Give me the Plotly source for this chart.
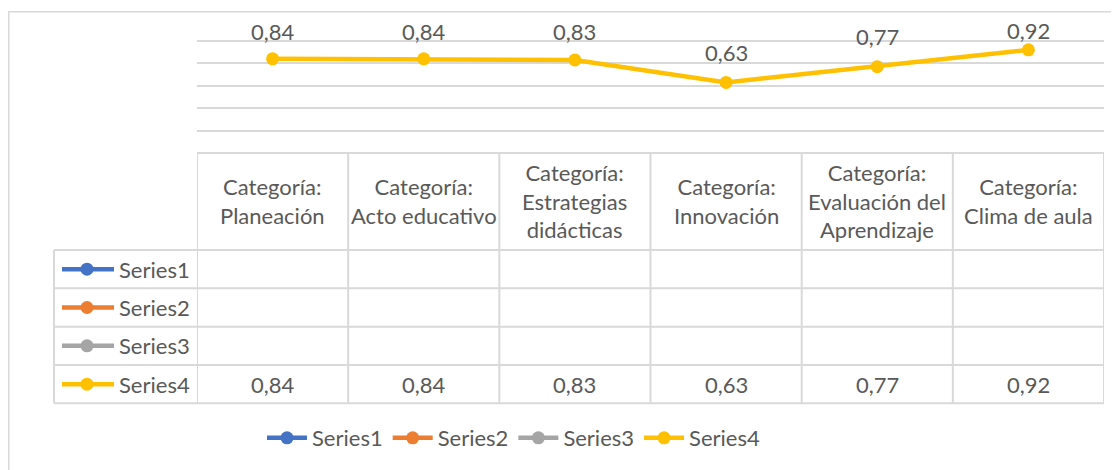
import plotly.graph_objects as go

categories = [
    "Categoría:<br>Planeación",
    "Categoría:<br>Acto educativo",
    "Categoría:<br>Estrategias<br>didácticas",
    "Categoría:<br>Innovación",
    "Categoría:<br>Evaluación del<br>Aprendizaje",
    "Categoría:<br>Clima de aula",
]
series_names = ["Series1", "Series2", "Series3", "Series4"]
series1 = [None] * 6
series2 = [None] * 6
series3 = [None] * 6
series4 = [0.84, 0.84, 0.83, 0.63, 0.77, 0.92]
series_values = [series1, series2, series3, series4]
colors = ["#4472C4", "#ED7D31", "#A5A5A5", "#FFC000"]

# page has an 8px body margin; the figure is sized to fit inside the window
OFF = 8
W, H = 1119 - OFF, 470 - OFF
FONT = "Lato"
TXT = "#595959"
GRID = "#D9D9D9"


def py(y):
    return 1 - (y - OFF) / H


def px(x):
    return (x - OFF) / W


xs = list(range(len(categories)))

# axis geometry (pixels)
axis_zero_px = 153
unit_px = 112.1          # pixels per 1.0 on the value axis
y_max = 1.03
label_top_px = 31        # data labels are kept below this line (inside chart)

fig = go.Figure()
for name, vals, col in zip(series_names, series_values, colors):
    fig.add_trace(go.Scatter(
        x=xs, y=vals, name=name, mode="lines+markers",
        line=dict(color=col, width=4.5),
        marker=dict(color=col, size=13),
        cliponaxis=False,
    ))

annotations = []
shapes = []

# data labels (above the point, kept inside the chart area)
for i, v in zip(xs, series4):
    point_px = axis_zero_px - v * unit_px
    shift = min(30, point_px - label_top_px)
    annotations.append(dict(
        x=i, y=v, xref="x", yref="y", text=f"{v:.2f}".replace(".", ","),
        showarrow=False, yshift=shift, yanchor="middle",
        font=dict(family=FONT, size=22, color=TXT)))

# table geometry (pixels)
table_top = 153
header_bottom = 250
row_bounds = [250, 288.3, 326.7, 365, 403.3]
row_left = 54
plot_left, plot_right = 197, 1104

# horizontal table lines
shapes.append(dict(type="line", xref="paper", yref="paper",
                   x0=px(plot_left), x1=px(plot_right), y0=py(table_top), y1=py(table_top),
                   line=dict(color=GRID, width=2)))
for yb in row_bounds:
    shapes.append(dict(type="line", xref="paper", yref="paper",
                       x0=px(row_left), x1=px(plot_right), y0=py(yb), y1=py(yb),
                       line=dict(color=GRID, width=2)))
# vertical table lines at category boundaries
for k in range(len(categories) + 1):
    shapes.append(dict(type="line", xref="x", yref="paper",
                       x0=k - 0.5, x1=k - 0.5, y0=py(table_top), y1=py(row_bounds[-1]),
                       line=dict(color=GRID, width=2)))
shapes.append(dict(type="line", xref="paper", yref="paper",
                   x0=px(row_left), x1=px(row_left), y0=py(row_bounds[0]), y1=py(row_bounds[-1]),
                   line=dict(color=GRID, width=2)))

# header text
for i, c in zip(xs, categories):
    annotations.append(dict(
        x=i, y=py((table_top + header_bottom) / 2), xref="x", yref="paper",
        text=c, showarrow=False, yanchor="middle", xanchor="center",
        font=dict(family=FONT, size=22, color=TXT)))

# row labels and values
for r, (name, vals, col) in enumerate(zip(series_names, series_values, colors)):
    yc = (row_bounds[r] + row_bounds[r + 1]) / 2
    shapes.append(dict(type="line", xref="paper", yref="paper",
                       x0=px(62), x1=px(114), y0=py(yc), y1=py(yc),
                       line=dict(color=col, width=4.5)))
    shapes.append(dict(type="circle", xref="paper", yref="paper",
                       x0=px(87 - 6.5), x1=px(87 + 6.5), y0=py(yc - 6.5), y1=py(yc + 6.5),
                       fillcolor=col, line=dict(width=0)))
    annotations.append(dict(
        x=px(117), y=py(yc), xref="paper", yref="paper", text=name,
        showarrow=False, xanchor="left", yanchor="middle",
        font=dict(family=FONT, size=22, color=TXT)))
    for i, v in zip(xs, vals):
        if v is not None:
            annotations.append(dict(
                x=i, y=py(yc), xref="x", yref="paper",
                text=f"{v:.2f}".replace(".", ","), showarrow=False,
                yanchor="middle", font=dict(family=FONT, size=22, color=TXT)))

# chart border
shapes.append(dict(type="rect", xref="paper", yref="paper",
                   x0=px(8.8), x1=px(1130), y0=py(480), y1=py(11.8),
                   line=dict(color=GRID, width=1.5)))

fig.update_layout(
    width=W, height=H,
    margin=dict(l=0, r=0, t=0, b=0),
    paper_bgcolor="white", plot_bgcolor="white",
    separators=",.",
    xaxis=dict(domain=[px(plot_left), px(plot_right)], range=[-0.5, len(categories) - 0.5],
               showticklabels=False, showgrid=False, zeroline=False, showline=False),
    yaxis=dict(domain=[py(axis_zero_px), py(axis_zero_px - y_max * unit_px)],
               range=[0, y_max], tick0=0, dtick=0.2,
               showticklabels=False, showgrid=True, gridcolor=GRID, gridwidth=2,
               zeroline=False, showline=False),
    showlegend=True,
    legend=dict(orientation="h", x=px(262), y=py(438), yanchor="middle", xanchor="left",
                font=dict(family=FONT, size=22, color=TXT), itemwidth=40,
                bgcolor="rgba(0,0,0,0)"),
    shapes=shapes,
    annotations=annotations,
)

fig.write_html("out.html")
